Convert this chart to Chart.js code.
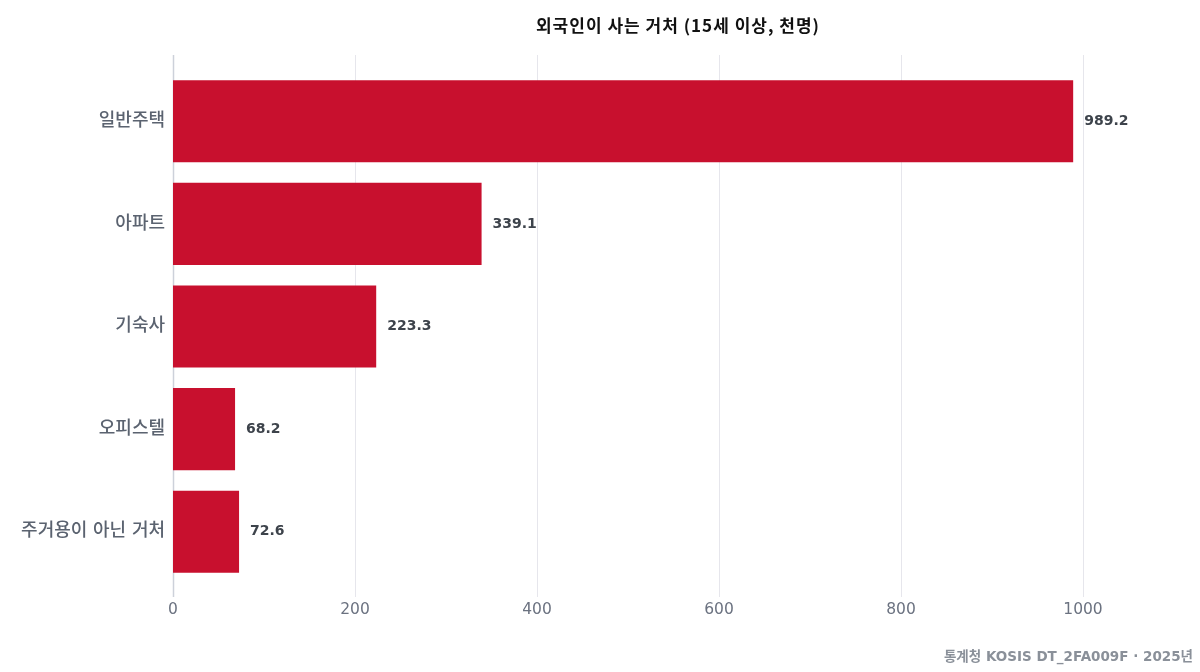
<!DOCTYPE html>
<html>
<head>
<meta charset="utf-8">
<script src="https://cdn.jsdelivr.net/npm/chart.js@4.4.1/dist/chart.umd.min.js"></script>
<style>
  html, body { margin: 0; padding: 0; background: #fff; }
  #wrap { position: relative; width: 1200px; height: 672px; }
  #title { position: absolute; left: 173px; width: 1010px; top: 12px; text-align: center;
    font-family: "Noto Sans CJK KR", sans-serif; font-weight: bold; font-size: 17px; letter-spacing: 1px; color: #111; }
  #footer { position: absolute; right: 7px; top: 645px;
    font-family: "DejaVu Sans", "Noto Sans CJK KR", sans-serif; font-weight: bold; font-size: 13.5px; color: #8a9099; }
</style>
</head>
<body>
<div id="wrap">
  <canvas id="c" width="1200" height="672"></canvas>
  <div id="title">외국인이 사는 거처 (15세 이상, 천명)</div>
  <div id="footer">통계청 KOSIS DT_2FA009F · 2025년</div>
</div>
<script>
const categories = ["일반주택", "아파트", "기숙사", "오피스텔", "주거용이 아닌 거처"];
const values = [989.2, 339.1, 223.3, 68.2, 72.6];
const xTicks = [0, 200, 400, 600, 800, 1000];

const FONT = '"DejaVu Sans", "Noto Sans CJK KR", sans-serif';

const gridPlugin = {
  id: 'extGrid',
  beforeDatasetsDraw(chart) {
    const ctx = chart.ctx, xs = chart.scales.x, area = chart.chartArea;
    ctx.save();
    xTicks.forEach(v => {
      const px = Math.round(xs.getPixelForValue(v)) + 0.5;
      ctx.strokeStyle = v === 0 ? '#cdd1da' : '#e6e6ec';
      ctx.lineWidth = v === 0 ? 1.5 : 1;
      ctx.beginPath();
      ctx.moveTo(px, area.top - 15);
      ctx.lineTo(px, area.bottom + 14);
      ctx.stroke();
    });
    ctx.restore();
  }
};

const labelPlugin = {
  id: 'valLabels',
  afterDatasetsDraw(chart) {
    const ctx = chart.ctx;
    const meta = chart.getDatasetMeta(0);
    ctx.save();
    ctx.font = 'bold 14px ' + FONT;
    ctx.fillStyle = '#3d434b';
    ctx.textAlign = 'left';
    ctx.textBaseline = 'middle';
    meta.data.forEach((bar, i) => {
      ctx.fillText(values[i].toFixed(1), bar.x + 11, bar.y);
    });
    ctx.restore();
  }
};

new Chart(document.getElementById('c'), {
  type: 'bar',
  data: {
    labels: categories,
    datasets: [{
      data: values,
      backgroundColor: '#c8102e',
      borderWidth: 0,
      barPercentage: 0.8,
      categoryPercentage: 1.0
    }]
  },
  plugins: [gridPlugin, labelPlugin],
  options: {
    indexAxis: 'y',
    responsive: false,
    animation: false,
    layout: { padding: { top: 70, right: 117, bottom: 49, left: 0 } },
    plugins: { legend: { display: false }, tooltip: { enabled: false }, title: { display: false } },
    scales: {
      x: {
        min: 0, max: 1000,
        afterFit(s) { s.height = 40; },
        grid: { display: false, drawTicks: false },
        border: { display: false },
        ticks: { stepSize: 200, padding: 18, color: '#6b7280', font: { family: FONT, size: 15.5 },
          callback: v => String(v) }
      },
      y: {
        afterFit(s) { s.width = 173; },
        grid: { display: false, drawTicks: false },
        border: { display: false },
        ticks: { padding: 8, color: '#5b6370', font: { family: FONT, size: 18, weight: '500' } }
      }
    }
  }
});
</script>
</body>
</html>
